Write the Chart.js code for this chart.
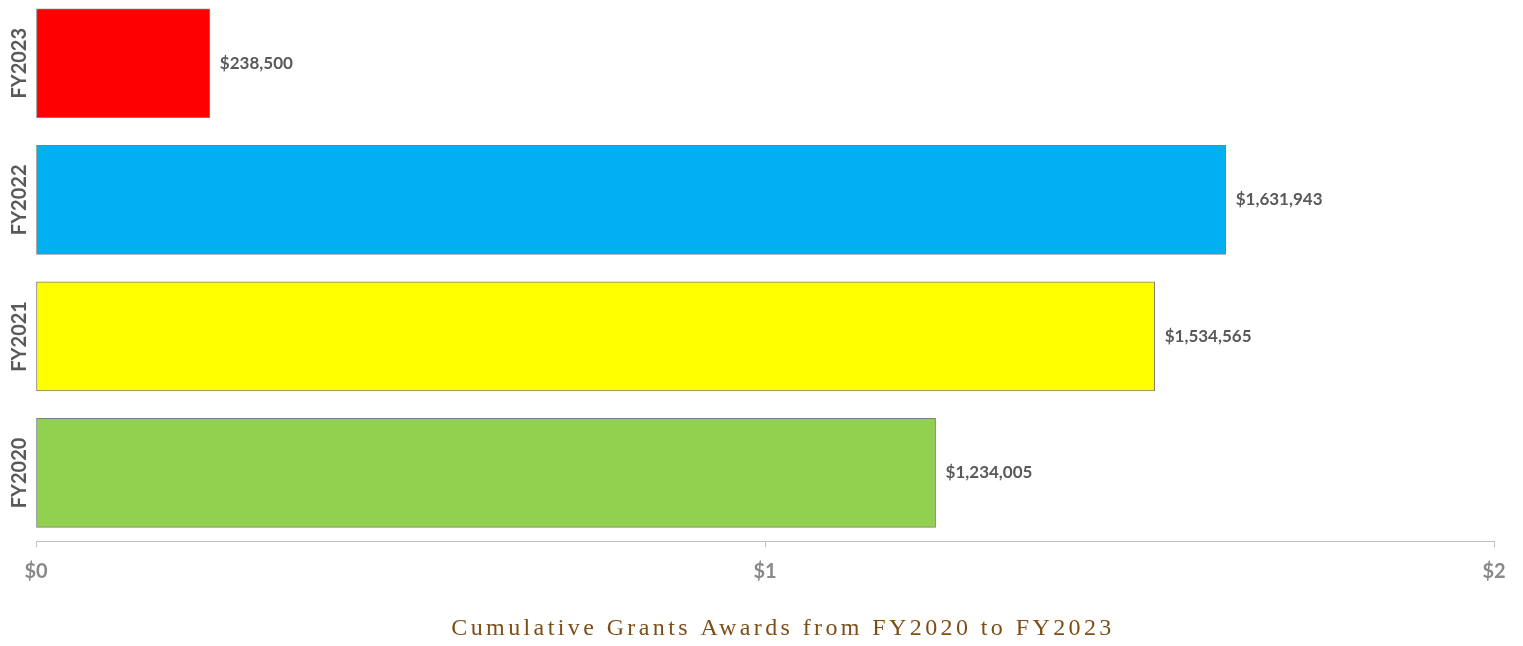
<!DOCTYPE html>
<html>
<head>
<meta charset="utf-8">
<script src="https://cdn.jsdelivr.net/npm/chart.js@4.4.1/dist/chart.umd.min.js"></script>
<style>
  html, body { margin: 0; padding: 0; background: #ffffff; overflow: hidden; }
  #wrap { width: 1523px; height: 646px; overflow: hidden; }
  #c { display: block; margin-top: -5px; }
</style>
</head>
<body>
<div id="wrap"><canvas id="c" width="1523" height="651"></canvas></div>
<script>
const categories = ['FY2023', 'FY2022', 'FY2021', 'FY2020'];
const awards = [238500, 1631943, 1534565, 1234005];
const barColors = ['#ff0000', '#00b0f0', '#ffff00', '#92d050'];
const xTickValues = [0, 1000000, 2000000];
const chartTitle = 'Cumulative Grants Awards from FY2020 to FY2023';

const TITLE_SPACING = '3.4px';
const TITLE_SHIFT = 36;

function fmtMoney(v) { return '$' + v.toLocaleString('en-US'); }

const labelPlugin = {
  id: 'customLabels',
  beforeDraw(chart) {
    const t = chart.titleBlock;
    if (t && !t._patched) {
      const orig = t.draw.bind(t);
      t.draw = function (area) {
        const ctx = chart.ctx;
        ctx.save();
        ctx.letterSpacing = TITLE_SPACING;
        ctx.translate(TITLE_SHIFT, 0);
        orig(area);
        ctx.restore();
      };
      t._patched = true;
    }
  },
  afterDatasetsDraw(chart) {
    const ctx = chart.ctx;
    const meta = chart.getDatasetMeta(0);
    const ys = chart.scales.y;
    ctx.save();
    ctx.font = 'bold 17px Lato';
    ctx.fillStyle = '#595959';
    ctx.textBaseline = 'middle';
    ctx.textAlign = 'left';
    meta.data.forEach((bar, i) => {
      ctx.fillText(fmtMoney(awards[i]), bar.x + 10, bar.y);
    });
    ctx.font = 'bold 20px Lato';
    ctx.textAlign = 'center';
    categories.forEach((c, i) => {
      const y = ys.getPixelForValue(i);
      ctx.save();
      ctx.translate(19.5, y);
      ctx.rotate(-Math.PI / 2);
      ctx.fillText(c, 0, 0);
      ctx.restore();
    });
    ctx.restore();
  }
};

new Chart(document.getElementById('c'), {
  type: 'bar',
  data: {
    labels: categories,
    datasets: [{
      data: awards,
      backgroundColor: barColors,
      borderColor: '#7f7f7f',
      borderWidth: 1,
      borderSkipped: false,
      barThickness: 109
    }]
  },
  options: {
    indexAxis: 'y',
    responsive: false,
    animation: false,
    layout: { padding: { top: 0, right: 29, bottom: 0, left: 0 } },
    plugins: {
      legend: { display: false },
      tooltip: { enabled: false },
      title: {
        display: true,
        text: chartTitle,
        position: 'bottom',
        color: '#7d4e16',
        font: { family: 'Liberation Serif', size: 24, weight: 'normal' },
        padding: { top: 19, bottom: 3 }
      }
    },
    scales: {
      x: {
        min: 0,
        max: 2000000,
        afterBuildTicks(scale) { scale.ticks = xTickValues.map(v => ({ value: v })); },
        ticks: {
          callback: v => '$' + (v / 1000000),
          color: '#898989',
          font: { family: 'Lato', size: 20, weight: 'bold' },
          padding: 12,
          maxRotation: 0
        },
        grid: { display: true, drawOnChartArea: false, drawTicks: true, tickLength: 6, color: '#bfbfbf' },
        border: { display: true, color: '#bfbfbf', width: 1 }
      },
      y: {
        ticks: { display: false },
        grid: { display: false },
        border: { display: false },
        afterFit(scale) { scale.width = 36; }
      }
    }
  },
  plugins: [labelPlugin]
});
</script>
</body>
</html>
